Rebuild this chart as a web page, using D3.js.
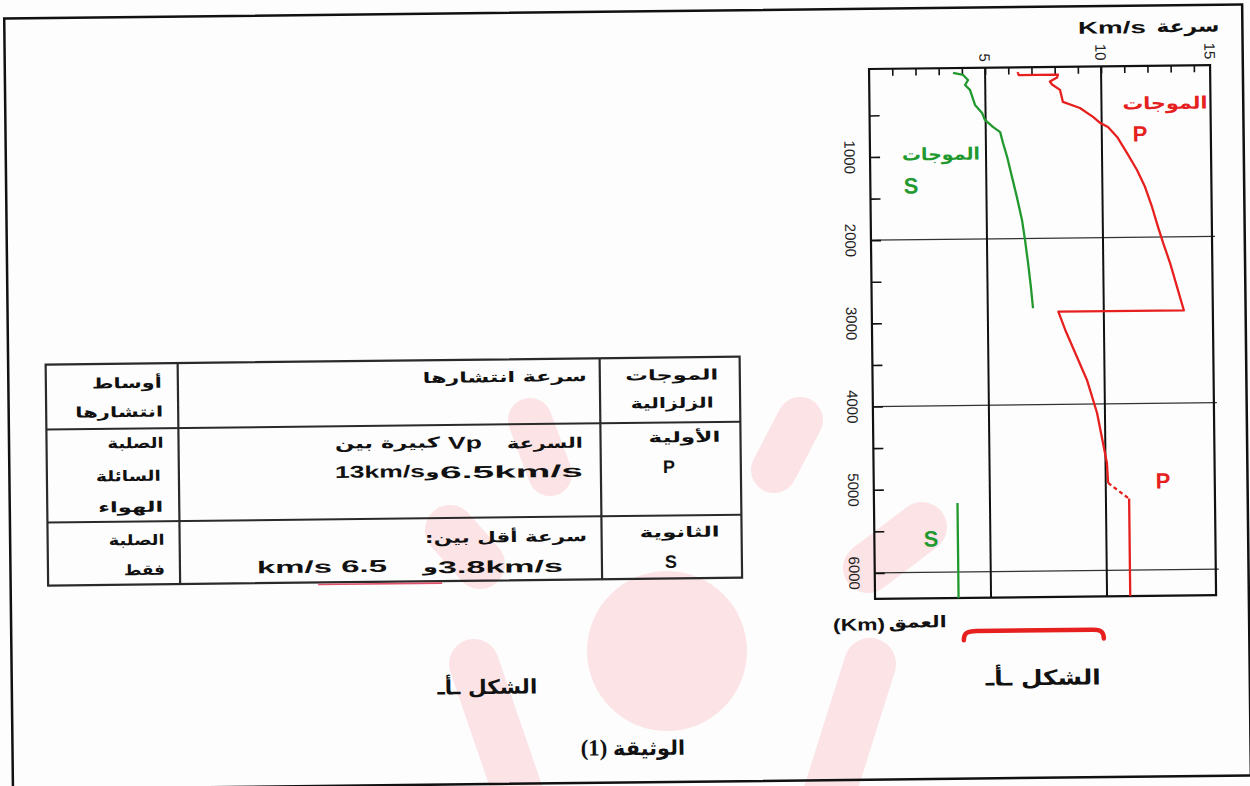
<!DOCTYPE html>
<html><head><meta charset="utf-8">
<script src="https://cdn.jsdelivr.net/npm/d3@7"></script>
<style>body{margin:0;background:#fff;} svg{display:block;}</style>
</head><body>
<svg id="c" width="1250" height="786"></svg>
<script>
// ---------- DATA ----------
// P-wave velocity (km/s) vs depth (km)
const pDepth = [0, 35, 35, 70, 117, 153, 219, 364, 439, 548, 621, 671, 792, 987, 1192, 1398, 1639, 1881, 2073, 2315, 2605, 2885, 2885, 3105, 3709, 4108, 4469, 4709, 4950];
const pVel   = [6.4, 6.45, 8.14, 8.1, 7.79, 7.88, 8.22, 8.34, 9.07, 9.63, 9.93, 10.27, 10.66, 11.08, 11.5, 11.84, 12.13, 12.38, 12.59, 12.88, 13.17, 13.45, 8.04, 8.33, 9.24, 9.66, 9.9, 10.06, 10.1];
const pDashDepth = [4950, 5132];
const pDashVel   = [10.1, 10.95];
const pCoreDepth = [5140, 6371];
const pCoreVel   = [11.0, 11.0];
// S-wave velocity (km/s) vs depth (km)
const sDepth = [0, 26, 88, 147, 207, 388, 485, 570, 655, 718, 851, 1019, 1261, 1502, 1780, 2020, 2298, 2587, 2840];
const sVel   = [3.62, 4.05, 4.26, 4.13, 4.34, 4.55, 4.85, 4.97, 5.31, 5.62, 5.74, 5.91, 6.11, 6.31, 6.52, 6.64, 6.76, 6.87, 6.95];
const sCoreDepth = [5171, 6371];
const sCoreVel   = [3.6, 3.6];
// axes
const velMax = 14.7;
const depthMin = -58, depthMax = 6313;
const velMinorTicks = [1,2,3,4,5,6,7,8,9,10,11,12,13,14];
const velLabels = [5, 10, 15];
const velGrid = [5, 10];
const depthTicks = [500,1000,1500,2000,2500,3000,3500,4000,4500,5000,5500,6000];
const depthLabels = [1000,2000,3000,4000,5000,6000];
const depthGrid = [2000, 4000, 6000];
// texts
const titleTexts = ["سرعة", "Km/s"];
const depthTitle = ["العمق", "(Km)"];
const waveWord = "الموجات";
const captionFig = "الشكل ـأـ";
const captionDoc = ["الوثيقة", "(1)"];
const tableCol1 = ["الموجات", "الزلزالية", "الأولية", "P", "الثانوية", "S"];
const tableCol2 = ["سرعة انتشارها", "السرعة", "Vp", "كبيرة بين", "13km/s", "و", "6.5km/s", "سرعة أقل بين:", "km/s 6.5", "و", "3.8km/s"];
const tableCol3 = ["أوساط", "انتشارها", "الصلبة", "السائلة", "الهواء", "الصلبة", "فقط"];

// ---------- DRAW ----------
const AR = "'DejaVu Sans', sans-serif";
const LAT = "'Liberation Sans', Arial, sans-serif";
const RED = "#e5201e", GREEN = "#22992f";
const svg = d3.select("#c");
svg.append("rect").attr("width",1250).attr("height",786).attr("fill","#fdfdfd");

// watermark (faint pink logo)
const wmc = "#fbe3e6";
const wm = svg.append("g");
wm.append("circle").attr("cx",667).attr("cy",651).attr("r",80).attr("fill",wmc);
[[530,420,550,474,44],[800,420,774,470,46],[450,530,480,564,50],[922,527,868,568,50],[474,664,524,810,50],[870,664,824,810,52]]
 .forEach(c=>wm.append("line").attr("x1",c[0]).attr("y1",c[1]).attr("x2",c[2]).attr("y2",c[3])
   .attr("stroke",wmc).attr("stroke-width",c[4]).attr("stroke-linecap","round"));

const root = svg.append("g").attr("transform","rotate(-0.65,625,393)");
// page border
root.append("rect").attr("x",8.5).attr("y",11.5).attr("width",1238).attr("height",771)
  .attr("fill","none").attr("stroke","#111").attr("stroke-width",2.5);

function txt(g, s, x, y, o){
  const t = g.append("text").attr("x",x).attr("y",y).text(s)
    .attr("text-anchor", o.anchor||"middle").attr("dominant-baseline","central")
    .attr("font-family", o.font||AR).attr("font-size", o.size||15)
    .attr("font-weight", o.weight||"bold").attr("fill", o.fill||"#111");
  if (o.w) t.attr("textLength", o.w).attr("lengthAdjust","spacingAndGlyphs");
  if (o.rtl) t.attr("direction","rtl");
  return t;
}

// ---- chart ----
const xS = d3.scaleLinear().domain([0, 15]).range([872.7, 872.7 + 23.2*15]);
const yS = d3.scaleLinear().domain([depthMin, depthMax]).range([71.8, 601.8]);
const ch = root.append("g");
ch.append("defs").append("clipPath").attr("id","clip").append("rect")
  .attr("x",xS(0)).attr("y",yS(depthMin)).attr("width",xS(velMax)-xS(0)).attr("height",yS(depthMax)-yS(depthMin));

ch.selectAll(".hg").data(depthGrid).join("line")
  .attr("x1",xS(0)).attr("x2",xS(velMax)+3).attr("y1",d=>yS(d)).attr("y2",d=>yS(d))
  .attr("stroke","#333").attr("stroke-width",1.3);
ch.selectAll(".vg").data(velGrid).join("line")
  .attr("x1",d=>xS(d)).attr("x2",d=>xS(d)).attr("y1",yS(depthMin)).attr("y2",yS(depthMax))
  .attr("stroke","#111").attr("stroke-width",2);

const topAx = ch.append("g").attr("transform",`translate(0,${yS(depthMin)})`)
  .call(d3.axisTop(xS).tickValues(velMinorTicks).tickSize(-7).tickFormat(""));
topAx.select(".domain").remove();
topAx.selectAll("line").attr("stroke","#111").attr("stroke-width",1.6);
const leftAx = ch.append("g").attr("transform",`translate(${xS(0)},0)`)
  .call(d3.axisLeft(yS).tickValues(depthTicks).tickSize(-10).tickFormat(""));
leftAx.select(".domain").remove();
leftAx.selectAll("line").attr("stroke","#111").attr("stroke-width",1.6);

ch.append("rect").attr("x",xS(0)).attr("y",yS(depthMin)).attr("width",xS(velMax)-xS(0)).attr("height",yS(depthMax)-yS(depthMin))
  .attr("fill","none").attr("stroke","#111").attr("stroke-width",2.2);

// tick labels (rotated)
velLabels.forEach(v=>{
  const tx = xS(Math.min(v, velMax)) - 5.5;
  ch.append("text").attr("transform",`translate(${tx},66) rotate(90)`).text(v)
    .attr("text-anchor","end").attr("font-family",LAT).attr("font-size",15).attr("fill","#222");
});
depthLabels.forEach(d=>{
  ch.append("text").attr("transform",`translate(847,${yS(d)}) rotate(90)`).text(d)
    .attr("text-anchor","middle").attr("font-family",LAT).attr("font-size",15).attr("fill","#222");
});

// lines
const lg = ch.append("g").attr("clip-path","url(#clip)").attr("fill","none").attr("stroke-width",2.3).attr("stroke-linejoin","round");
const line = d3.line().x(d=>xS(d[0])).y(d=>yS(d[1]));
const zipd = (v,d)=>v.map((vv,i)=>[vv,d[i]]);
lg.append("path").attr("d",line(zipd(sVel,sDepth))).attr("stroke",GREEN);
lg.append("path").attr("d",line(zipd(sCoreVel,sCoreDepth))).attr("stroke",GREEN);
lg.append("path").attr("d",line(zipd(pVel,pDepth))).attr("stroke",RED);
lg.append("path").attr("d",line(zipd(pDashVel,pDashDepth))).attr("stroke",RED).attr("stroke-dasharray","4,3");
lg.append("path").attr("d",line(zipd(pCoreVel,pCoreDepth))).attr("stroke",RED);

// chart texts
txt(ch, titleTexts[0], 1192, 32.4, {size:17, w:63});
txt(ch, titleTexts[1], 1116, 33.5, {font:LAT, size:17, w:68});
txt(ch, waveWord, 1168.3, 109.1, {size:17, w:85, fill:RED});
txt(ch, "P", 1143, 139.8, {font:LAT, size:22, fill:RED});
txt(ch, waveWord, 943.7, 157.6, {size:17, w:78, fill:GREEN});
txt(ch, "S", 913.4, 189.2, {font:LAT, size:22, fill:GREEN});
txt(ch, "P", 1162, 487.1, {font:LAT, size:22, fill:RED});
txt(ch, "S", 929.3, 542.5, {font:LAT, size:22, fill:GREEN});
txt(ch, depthTitle[0], 915, 625.3, {size:16, w:58});
txt(ch, depthTitle[1], 856.4, 627.6, {font:LAT, size:17, w:52});
ch.append("path").attr("d","M961,644 C961,637 964,635 974,635 L1090,635 C1098,635 1101,637 1101,644")
  .attr("fill","none").attr("stroke",RED).attr("stroke-width",4.5).attr("stroke-linecap","round");

// captions
txt(root, captionFig, 1040, 682.7, {size:21, w:115});
txt(root, captionFig, 484, 685.4, {size:20, w:100});
txt(root, captionDoc[0], 645, 748.3, {size:20, w:72});
txt(root, captionDoc[1], 590, 747.6, {font:"'Liberation Serif', serif", size:23});

// ---- table ----
const tb = root.append("g");
const T = {l:46, r:740, t:358, rows:[423,516], b:579, cols:[178,600]};
tb.append("rect").attr("x",T.l).attr("y",T.t).attr("width",T.r-T.l).attr("height",T.b-T.t)
  .attr("fill","none").attr("stroke","#2a2a2a").attr("stroke-width",2.2);
T.rows.forEach(r=>tb.append("line").attr("x1",T.l).attr("x2",T.r).attr("y1",r).attr("y2",r).attr("stroke","#2a2a2a").attr("stroke-width",2));
T.cols.forEach(c=>tb.append("line").attr("x1",c).attr("x2",c).attr("y1",T.t).attr("y2",T.b).attr("stroke","#2a2a2a").attr("stroke-width",2.2));

const c1pos = [[672,375.5,93],[672,403.5,83],[684,437.7,72],[668,467.5,0],[678,532.6,80],[669,562.5,0]];
tableCol1.forEach((s,i)=>{const p=c1pos[i];
  if (s.length===1) txt(tb,s,p[0],p[1],{font:LAT,size:18});
  else txt(tb,s,p[0],p[1],{size:14.5,w:p[2]});
});
const c2pos = [[505,375.6,164,"a"],[544.4,442.1,76,"a"],[464.4,441.2,34,"l"],[386.9,440.3,105,"a"],
  [379.1,469.2,90,"l"],[431.6,469.8,14,"a"],[510.6,470.7,143,"l"],
  [504.4,535.7,162,"a"],[320,563.6,130,"l"],[428.5,564.8,15,"a"],[498.5,565.6,125,"l"]];
tableCol2.forEach((s,i)=>{const p=c2pos[i];
  if (p[3]==="l") txt(tb,s,p[0],p[1],{font:LAT,size:17,w:p[2]});
  else txt(tb,s,p[0],p[1],{size:14.5,w:p[2],rtl:true});
});
const c3pos = [[127,377.4,70],[119,406.3,88],[135,437.5,56],[127.5,470.4,65],[129.5,501.4,65],[135,534.5,56],[142.5,564.5,41]];
tableCol3.forEach((s,i)=>{const p=c3pos[i]; txt(tb,s,p[0],p[1],{size:14.5,w:p[2]});});
tb.append("line").attr("x1",316).attr("x2",440).attr("y1",581).attr("y2",581).attr("stroke","#e0506a").attr("stroke-width",1.6);
</script>
</body></html>
